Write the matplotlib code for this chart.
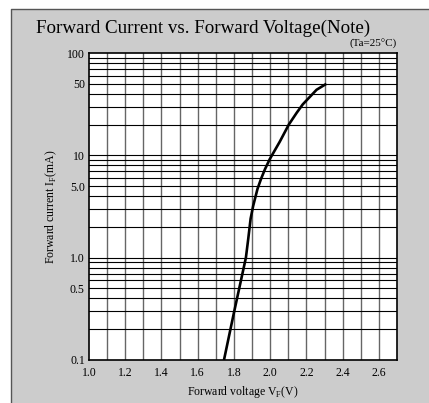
import matplotlib
matplotlib.use('Agg')
import matplotlib.pyplot as plt
from matplotlib.lines import Line2D
from matplotlib.ticker import FixedLocator, NullFormatter
import numpy as np

plt.rcParams['font.family'] = ['Liberation Serif', 'DejaVu Serif']
plt.rcParams['mathtext.fontset'] = 'custom'
plt.rcParams['mathtext.rm'] = 'Liberation Serif'

# curve
vf = [1.745, 1.80, 1.866, 1.879, 1.892, 1.906, 1.93, 1.949, 1.971, 1.998,
      2.053, 2.103, 2.146, 2.18, 2.256, 2.31]
i_f = [0.1, 0.29, 1.0, 1.53, 2.4, 3.2, 4.7, 5.85, 7.3, 9.2,
       13.6, 20.0, 26.0, 31.5, 43.7, 50.0]

xticks = [1.0, 1.2, 1.4, 1.6, 1.8, 2.0, 2.2, 2.4, 2.6]
xtick_labels = ['1.0', '1.2', '1.4', '1.6', '1.8', '2.0', '2.2', '2.4', '2.6']
yticks = [0.1, 0.5, 1.0, 5.0, 10, 50, 100]
ytick_labels = ['0.1', '0.5', '1.0', '5.0', '10', '50', '100']

fig = plt.figure(figsize=(4.29, 4.03), dpi=100)
fig.patch.set_facecolor('#cccccc')

# white margin and frame line at top / left
x0 = 10.5 / 429
y0 = 1 - 8.5 / 403
fig.patches.append(plt.Rectangle((0, y0), 1, 1 - y0, transform=fig.transFigure,
                                 facecolor='white', edgecolor='none', zorder=-10))
fig.patches.append(plt.Rectangle((0, 0), x0, 1, transform=fig.transFigure,
                                 facecolor='white', edgecolor='none', zorder=-10))
fig.lines.append(Line2D([x0, x0, 1], [0, y0, y0], transform=fig.transFigure,
                        color='#555555', linewidth=1.0))

ax = fig.add_axes([89 / 429, 1 - 360 / 403, (397 - 89) / 429, (360 - 53) / 403])
ax.set_facecolor('white')
ax.set_yscale('log')
ax.set_xlim(1.0, 2.7)
ax.set_ylim(0.1, 100)

# grid
for v in np.arange(1.1, 2.65, 0.1):
    ax.axvline(v, color='#666666', linewidth=1.0, zorder=1)
for dec in [0.1, 1, 10]:
    for m in range(2, 10):
        ax.axhline(dec * m, color='black', linewidth=0.8, zorder=1)
for y in [1, 10]:
    ax.axhline(y, color='black', linewidth=0.8, zorder=1)

ax.plot(vf, i_f, color='black', linewidth=1.9, zorder=3,
        solid_capstyle='butt')

ax.xaxis.set_major_locator(FixedLocator(xticks))
ax.set_xticklabels(xtick_labels)
ax.yaxis.set_major_locator(FixedLocator(yticks))
ax.yaxis.set_minor_formatter(NullFormatter())
ax.set_yticklabels(ytick_labels)
ax.tick_params(which='both', length=0, labelsize=8.5, pad=3)
ax.tick_params(axis='x', pad=5)

for s in ax.spines.values():
    s.set_linewidth(1.2)
    s.set_color('black')

ax.set_xlabel(r'Forward voltage V$_\mathrm{F}$(V)', fontsize=8.5, labelpad=4)
ax.set_ylabel(r'Forward current I$_\mathrm{F}$(mA)', fontsize=8.5, labelpad=6)

fig.text(36 / 429, 1 - 33 / 403, 'Forward Current vs. Forward Voltage(Note)',
         fontsize=13.7, va='baseline', ha='left')
ax.text(1.0, 1.012, '(Ta=25°C)', transform=ax.transAxes, fontsize=8,
        ha='right', va='bottom')

fig.savefig('out.png', dpi=100, facecolor=fig.get_facecolor())
